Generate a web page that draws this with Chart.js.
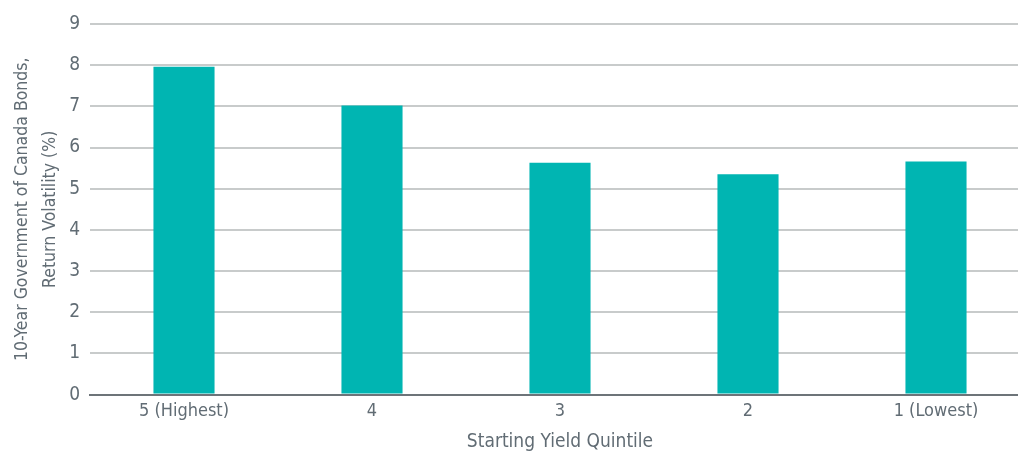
<!DOCTYPE html>
<html>
<head>
<meta charset="utf-8">
<script src="https://cdn.jsdelivr.net/npm/chart.js@4/dist/chart.umd.min.js"></script>
<style>
html,body{margin:0;padding:0;background:#fff;overflow:hidden;}
#wrap{position:relative;width:1040px;height:451px;}
</style>
</head>
<body>
<div id="wrap"><canvas id="c"></canvas></div>
<script>
const categories = ["5 (Highest)", "4", "3", "2", "1 (Lowest)"];
const volatility = [7.96, 7.02, 5.63, 5.35, 5.66];
const yTitle = ["10-Year Government of Canada Bonds,", "Return Volatility (%)"];
const xTitle = "Starting Yield Quintile";

const FONT = "'DejaVu Sans Condensed', 'Liberation Sans Narrow', 'Roboto', sans-serif";
const TEXT = "#616c74";

new Chart(document.getElementById('c'), {
  type: 'bar',
  data: {
    labels: categories,
    datasets: [{
      data: volatility,
      backgroundColor: '#00b5b2',
      borderWidth: 0,
      barPercentage: 1,
      categoryPercentage: 0.325
    }]
  },
  options: {
    responsive: true,
    maintainAspectRatio: false,
    animation: false,
    layout: { padding: { top: 24, right: 10, left: 0, bottom: 0 } },
    plugins: { legend: { display: false }, tooltip: { enabled: false } },
    scales: {
      x: {
        grid: { display: false, drawTicks: false },
        border: { display: true, color: '#6d7479', width: 2 },
        ticks: { color: TEXT, font: { family: FONT, size: 18 }, padding: 6 },
        title: { display: true, text: xTitle, color: TEXT, font: { family: FONT, size: 19 }, padding: { top: 2, bottom: -2 } }
      },
      y: {
        min: 0, max: 9,
        ticks: { stepSize: 1, color: TEXT, font: { family: FONT, size: 19 }, padding: 10 },
        grid: { color: '#c8cbcb', lineWidth: 2, drawTicks: false },
        border: { display: false },
        title: { display: true, text: yTitle, color: TEXT, font: { family: FONT, size: 17.5, lineHeight: 1.6 }, padding: { top: 8, bottom: 0 } },
        afterFit(scale) { scale.width = 90; }
      }
    }
  }
});
</script>
</body>
</html>
